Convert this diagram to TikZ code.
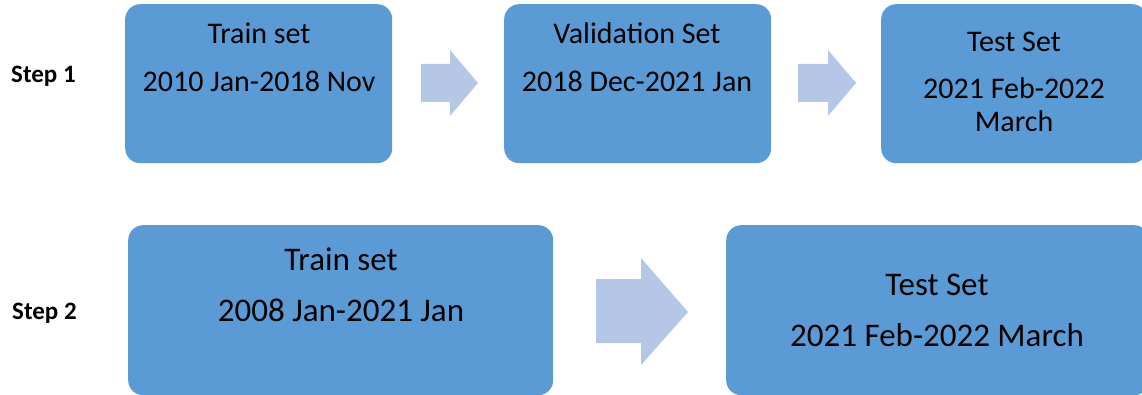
\documentclass[tikz,border=0pt]{standalone}
\usepackage{fontspec}
\setmainfont{Carlito}
\usetikzlibrary{positioning}
\definecolor{boxblue}{HTML}{5B9BD5}
\definecolor{arrowblue}{HTML}{B4C7E7}

\begin{document}
\begin{tikzpicture}[x=1pt,y=-1pt,
        setbox/.style={rectangle,rounded corners=15pt,fill=boxblue,inner sep=0pt,anchor=north west},
        smalltxt/.style={anchor=base,inner sep=0pt,font=\fontsize{30}{36}\selectfont},
        bigtxt/.style={anchor=base,inner sep=0pt,font=\fontsize{33}{40}\selectfont},
        steptxt/.style={anchor=base west,inner sep=0pt,font=\fontsize{25}{30}\selectfont\bfseries},
        blkarrow/.style={fill=arrowblue}]

        \useasboundingbox (0,0) rectangle (1142,395);

        % step 1
        \node [steptxt] (s1) at (11,83) {Step 1};

        \node [setbox,minimum width=267pt,minimum height=159pt] (train1) at (125,4) {};
        \node [setbox,minimum width=267pt,minimum height=159pt] (val1) at (504,4) {};
        \node [setbox,minimum width=266pt,minimum height=159pt] (test1) at (881,4) {};

        \node [smalltxt] (train1a) at (259,44) {Train set};
        \node [smalltxt] (train1b) at (259,92) {2010 Jan-2018 Nov};
        \node [smalltxt] (val1a) at (637,44) {Validation Set};
        \node [smalltxt] (val1b) at (637,92) {2018 Dec-2021 Jan};
        \node [smalltxt] (test1a) at (1014,52) {Test Set};
        \node [smalltxt] (test1b) at (1014,99) {2021 Feb-2022};
        \node [smalltxt] (test1c) at (1014,132) {March};

        \fill [blkarrow] (421,64) -- (450,64) -- (450,50) -- (478,83) -- (450,116) -- (450,102) -- (421,102) -- cycle;
        \fill [blkarrow] (798,64) -- (828,64) -- (828,50) -- (856,83) -- (828,116) -- (828,102) -- (798,102) -- cycle;

        % step 2
        \node [steptxt] (s2) at (12,319) {Step 2};

        \node [setbox,minimum width=425pt,minimum height=170pt] (train2) at (128,225) {};
        \node [setbox,minimum width=423pt,minimum height=170pt] (test2) at (726,225) {};

        \node [bigtxt] (train2a) at (341,270) {Train set};
        \node [bigtxt] (train2b) at (341,321) {2008 Jan-2021 Jan};
        \node [bigtxt] (test2a) at (937,295) {Test Set};
        \node [bigtxt] (test2b) at (937,346) {2021 Feb-2022 March};

        \fill [blkarrow] (596,279) -- (641,279) -- (641,258) -- (688,312) -- (641,365) -- (641,343) -- (596,343) -- cycle;
    \end{tikzpicture}
\end{document}
